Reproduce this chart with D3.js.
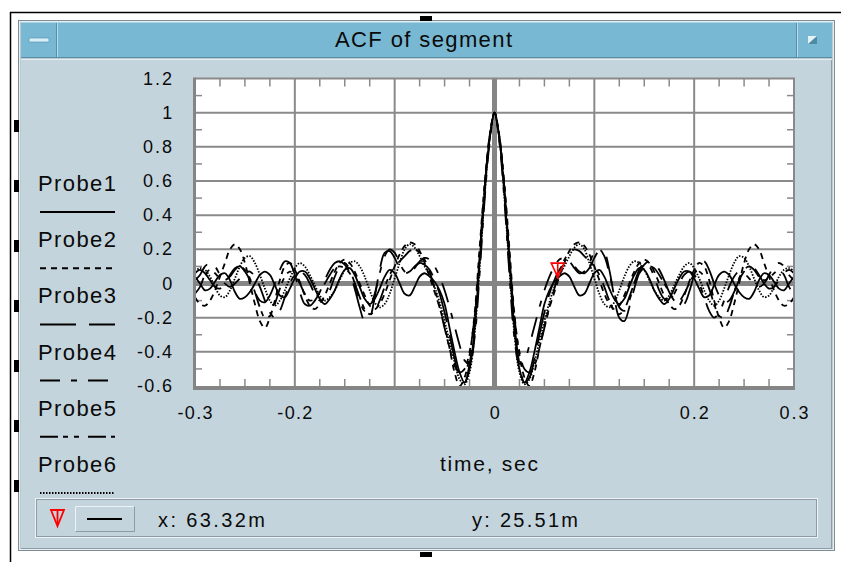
<!DOCTYPE html>
<html>
<head>
<meta charset="utf-8">
<script src="https://cdn.jsdelivr.net/npm/d3@7"></script>
<style>
  html, body { margin: 0; padding: 0; background: #ffffff; }
  svg { display: block; font-family: "Liberation Sans", Arial, Helvetica, sans-serif; }
</style>
</head>
<body>
<svg id="chart" width="841" height="562"></svg>
<script>
// ---------- data ----------
const title = "ACF of segment";
const xLabel = "time, sec";
const probeNames = ["Probe1", "Probe2", "Probe3", "Probe4", "Probe5", "Probe6"];
const dashPatterns = ["none", "6,5", "36,13", "20,11,6,11", "18,5,5,6,5,9", "1.5,1.5"];
const xTickLabels = ["-0.3", "-0.2", "0", "0.2", "0.3"];
const xTickValues = [-0.3, -0.2, 0, 0.2, 0.3];
const yTickValues = [1.2, 1, 0.8, 0.6, 0.4, 0.2, 0, -0.2, -0.4, -0.6];
const yTickLabels = ["1.2", "1", "0.8", "0.6", "0.4", "0.2", "0", "-0.2", "-0.4", "-0.6"];
const lagStep = 0.005; // seconds, lags 0 … 0.3 (ACF is symmetric in lag)
const probe1 = [1,0.84,0.52,0.12,-0.27,-0.5,-0.58,-0.52,-0.4,-0.26,-0.12,-0.04,0.01, 0.04,0.06,0.04,-0.02,-0.07,-0.06,0,0.06, 0.08,0.04,-0.03,-0.09,-0.12,-0.09,-0.02,0.05,0.09,0.08, 0.03,-0.04,-0.09,-0.12,-0.09,-0.03,0.03,0.07,0.07,0.03, -0.03,-0.08,-0.07,-0.01,0.05,0.07,0.05,0,-0.05,-0.08, -0.09,-0.05,0.02,0.06,0.05,0.01,-0.03,-0.04,0,0.04];
const probe2 = [1,0.86,0.58,0.2,-0.18,-0.42,-0.55,-0.6,-0.52,-0.38,-0.25,-0.14,-0.05, 0.04,0.12,0.19,0.23,0.24,0.22,0.17,0.1, 0.02,-0.06,-0.12,-0.15,-0.13,-0.07,0,0.07,0.12,0.14, 0.12,0.07,0,-0.07,-0.12,-0.15,-0.13,-0.07,0.01,0.08, 0.12,0.1,0.02,-0.1,-0.2,-0.26,-0.22,-0.12,0,0.12, 0.2,0.23,0.2,0.12,0.04,-0.04,-0.1,-0.13,-0.12,-0.08];
const probe3 = [1,0.85,0.55,0.15,-0.24,-0.47,-0.58,-0.55,-0.44,-0.3,-0.17,-0.06,0.02, 0.08,0.11,0.12,0.1,0.07,0.06,0.09,0.15, 0.19,0.18,0.08,-0.08,-0.2,-0.22,-0.14,-0.03,0.06,0.11, 0.13,0.12,0.08,0.02,-0.05,-0.1,-0.13,-0.12,-0.05,0.05, 0.12,0.13,0.08,0,-0.07,-0.11,-0.1,-0.05,0.02,0.07, 0.1,0.09,0.05,0,-0.03,-0.02,0.02,0.06,0.08,0.06];
const probe4 = [1,0.82,0.48,0.05,-0.32,-0.47,-0.45,-0.36,-0.25,-0.14,-0.04,0.04,0.1, 0.14,0.15,0.13,0.09,0.06,0.07,0.12,0.18, 0.2,0.16,0.06,-0.06,-0.14,-0.16,-0.1,0,0.08,0.12, 0.1,0.04,-0.04,-0.09,-0.1,-0.06,0,0.05,0.07,0.05, 0,-0.08,-0.16,-0.2,-0.17,-0.1,-0.02,0.04,0.07,0.06, 0.03,0,-0.02,0,0.05,0.1,0.12,0.1,0.05,0.02];
const probe5 = [1,0.85,0.55,0.16,-0.2,-0.4,-0.5,-0.52,-0.48,-0.38,-0.26,-0.14,-0.03, 0.07,0.14,0.18,0.2,0.19,0.16,0.13,0.1, 0.05,-0.02,-0.1,-0.16,-0.18,-0.15,-0.08,0,0.06,0.09, 0.1,0.09,0.05,0,-0.05,-0.09,-0.1,-0.06,0,0.05, 0.07,0.04,-0.03,-0.12,-0.19,-0.2,-0.14,-0.05,0.03,0.08, 0.1,0.08,0.04,0.02,0.03,0.06,0.08,0.05,-0.02,-0.06];
const probe6 = [1,0.84,0.5,0.08,-0.3,-0.52,-0.59,-0.56,-0.46,-0.34,-0.22,-0.11,-0.02, 0.05,0.1,0.16,0.21,0.23,0.2,0.12,0.03, -0.06,-0.12,-0.14,-0.11,-0.04,0.04,0.1,0.13,0.12,0.08, 0.02,-0.04,-0.08,-0.1,-0.07,-0.01,0.05,0.1,0.12,0.09, 0.03,-0.04,-0.1,-0.13,-0.1,-0.03,0.05,0.12,0.16,0.15, 0.1,0.03,-0.04,-0.08,-0.07,-0.02,0.04,0.08,0.09,0.07];
const markerX = 0.06332;
const markerY = 0.02551;
const markerXText = "x: 63.32m";
const markerYText = "y: 25.51m";

const probes = [probe1, probe2, probe3, probe4, probe5, probe6];

// ---------- layout ----------
const svg = d3.select("#chart");
const P = { left: 195, right: 794, top: 78.5, bottom: 386 };
const x = d3.scaleLinear().domain([-0.3, 0.3]).range([P.left, P.right]);
const y = d3.scaleLinear().domain([-0.6, 1.2]).range([P.bottom, P.top]);
const textColor = "#0a0a0a";

svg.append("rect").attr("width", 841).attr("height", 562).attr("fill", "#ffffff");

// outer black window edge
svg.append("line").attr("x1", 10).attr("y1", 12.5).attr("x2", 841).attr("y2", 12.5).attr("stroke", "#000").attr("stroke-width", 1.5);
svg.append("line").attr("x1", 10.5).attr("y1", 12).attr("x2", 10.5).attr("y2", 562).attr("stroke", "#000").attr("stroke-width", 1.5);

// window frame
svg.append("rect").attr("x", 18.5).attr("y", 20.5).attr("width", 816).attr("height", 530)
  .attr("fill", "#bccad1").attr("stroke", "#7e8d95");
svg.append("rect").attr("x", 19.5).attr("y", 21.5).attr("width", 814).attr("height", 528)
  .attr("fill", "none").attr("stroke", "#e6eef2");

// title bar
svg.append("rect").attr("x", 21).attr("y", 22).attr("width", 811).attr("height", 36).attr("fill", "#79b8d3");
svg.append("line").attr("x1", 21).attr("x2", 832).attr("y1", 22.5).attr("y2", 22.5).attr("stroke", "#a8d4e6");
svg.append("line").attr("x1", 21).attr("x2", 832).attr("y1", 57.5).attr("y2", 57.5).attr("stroke", "#5a8ea6");
// left button
svg.append("line").attr("x1", 56.5).attr("x2", 56.5).attr("y1", 23).attr("y2", 57).attr("stroke", "#5a8ea6");
svg.append("line").attr("x1", 57.5).attr("x2", 57.5).attr("y1", 23).attr("y2", 57).attr("stroke", "#b4dcec");
svg.append("rect").attr("x", 29).attr("y", 38).attr("width", 20).attr("height", 4).attr("rx", 1.5).attr("fill", "#d9eef7").attr("stroke", "#4d8aa6").attr("stroke-width", 0.6);
// right button
svg.append("line").attr("x1", 796.5).attr("x2", 796.5).attr("y1", 23).attr("y2", 57).attr("stroke", "#5a8ea6");
svg.append("line").attr("x1", 797.5).attr("x2", 797.5).attr("y1", 23).attr("y2", 57).attr("stroke", "#b4dcec");
svg.append("rect").attr("x", 808).attr("y", 36).attr("width", 9).attr("height", 8).attr("fill", "#4d8aa6");
svg.append("path").attr("d", "M808,36 H817 L808,44 Z").attr("fill", "#e3f2f8");

// title text
svg.append("text").attr("x", 335).attr("y", 47).attr("font-size", 22).attr("fill", textColor)
  .attr("textLength", 177).attr("lengthAdjust", "spacing").text(title);

// panel
svg.append("rect").attr("x", 21).attr("y", 60).attr("width", 811).attr("height", 488).attr("fill", "#c4d4dd");
svg.append("line").attr("x1", 21).attr("x2", 832).attr("y1", 59.5).attr("y2", 59.5).attr("stroke", "#e2ecf1");
svg.append("line").attr("x1", 21).attr("x2", 832).attr("y1", 548.5).attr("y2", 548.5).attr("stroke", "#8d9ca4");
svg.append("line").attr("x1", 831.5).attr("x2", 831.5).attr("y1", 60).attr("y2", 548).attr("stroke", "#8d9ca4");

// resize handles
[126, 186, 246, 306, 366, 426, 486].forEach(cy => {
  svg.append("rect").attr("x", 14).attr("y", cy - 6).attr("width", 5).attr("height", 12).attr("fill", "#000");
});
svg.append("rect").attr("x", 420).attr("y", 16).attr("width", 12).attr("height", 5).attr("fill", "#000");
svg.append("rect").attr("x", 420).attr("y", 552).attr("width", 12).attr("height", 5).attr("fill", "#000");

// ---------- plot area ----------
svg.append("rect").attr("x", P.left).attr("y", P.top).attr("width", P.right - P.left).attr("height", P.bottom - P.top).attr("fill", "#fff");

const gridColor = "#8a8a8a";
const gGrid = svg.append("g");
[-0.2, -0.1, 0.1, 0.2].forEach(v => {
  gGrid.append("line").attr("x1", x(v)).attr("x2", x(v)).attr("y1", P.top).attr("y2", P.bottom).attr("stroke", gridColor).attr("stroke-width", 2);
});
[1, 0.8, 0.6, 0.4, 0.2, -0.2, -0.4].forEach(v => {
  gGrid.append("line").attr("x1", P.left).attr("x2", P.right).attr("y1", y(v)).attr("y2", y(v)).attr("stroke", gridColor).attr("stroke-width", 2);
});
// minor ticks
d3.range(-0.3, 0.3001, 0.025).forEach(v => {
  const r = Math.round(v * 40);
  if (r % 4 === 0) return;
  gGrid.append("line").attr("x1", x(v)).attr("x2", x(v)).attr("y1", P.top).attr("y2", P.top + 8).attr("stroke", gridColor).attr("stroke-width", 1.5);
  gGrid.append("line").attr("x1", x(v)).attr("x2", x(v)).attr("y1", P.bottom).attr("y2", P.bottom - 7).attr("stroke", gridColor).attr("stroke-width", 1.5);
});
[1.1, 0.9, 0.7, 0.5, 0.3, 0.1, -0.1, -0.3, -0.5].forEach(v => {
  gGrid.append("line").attr("x1", P.left).attr("x2", P.left + 7).attr("y1", y(v)).attr("y2", y(v)).attr("stroke", gridColor).attr("stroke-width", 1.5);
  gGrid.append("line").attr("x1", P.right).attr("x2", P.right - 7).attr("y1", y(v)).attr("y2", y(v)).attr("stroke", gridColor).attr("stroke-width", 1.5);
});
// zero axes
gGrid.append("line").attr("x1", x(0)).attr("x2", x(0)).attr("y1", P.top).attr("y2", P.bottom).attr("stroke", "#858585").attr("stroke-width", 5);
gGrid.append("line").attr("x1", P.left).attr("x2", P.right).attr("y1", y(0)).attr("y2", y(0)).attr("stroke", "#858585").attr("stroke-width", 5);

// curves
svg.append("clipPath").attr("id", "clip").append("rect")
  .attr("x", P.left).attr("y", P.top).attr("width", P.right - P.left).attr("height", P.bottom - P.top);
const line = d3.line().x(d => x(d[0])).y(d => y(d[1])).curve(d3.curveCatmullRom.alpha(0.5));
const gCurves = svg.append("g").attr("clip-path", "url(#clip)");
probes.forEach((half, i) => {
  const right = half.map((v, k) => [k * lagStep, v]);
  const left = half.slice(1).map((v, k) => [-(k + 1) * lagStep, v]).reverse();
  const pts = left.concat(right);
  gCurves.append("path").datum(pts).attr("d", line)
    .attr("fill", "none").attr("stroke", "#000").attr("stroke-width", 1.8)
    .attr("stroke-dasharray", dashPatterns[i]);
});

// frame
svg.append("line").attr("x1", P.left).attr("x2", P.right + 1).attr("y1", P.top).attr("y2", P.top).attr("stroke", gridColor).attr("stroke-width", 2);
svg.append("line").attr("x1", P.right).attr("x2", P.right).attr("y1", P.top).attr("y2", P.bottom).attr("stroke", gridColor).attr("stroke-width", 2);
svg.append("line").attr("x1", P.left - 0.5).attr("x2", P.left - 0.5).attr("y1", P.top - 1).attr("y2", P.bottom + 4).attr("stroke", "#858585").attr("stroke-width", 3);
svg.append("line").attr("x1", P.left - 2).attr("x2", P.right + 1).attr("y1", P.bottom + 2).attr("y2", P.bottom + 2).attr("stroke", "#858585").attr("stroke-width", 4);

// marker
const mx = x(markerX), my = y(markerY);
const gM = svg.append("g").attr("stroke", "#ff0000").attr("fill", "none");
gM.append("path").attr("d", `M${mx - 6.5},${my - 16} H${mx + 6.5} L${mx},${my - 2} Z`).attr("stroke-width", 1.6);
gM.append("line").attr("x1", mx).attr("x2", mx).attr("y1", my - 16).attr("y2", my).attr("stroke-width", 1.6);

// tick labels
function tickLen(s) {
  let L = 0;
  for (const c of s) L += (c === "-") ? 6 : (c === ".") ? 9.6 : 9.7;
  return L;
}
yTickValues.forEach((v, i) => {
  const s = yTickLabels[i];
  svg.append("text").attr("x", 172 - tickLen(s)).attr("y", y(v) + 6).attr("font-size", 18).attr("fill", textColor)
    .attr("textLength", tickLen(s)).attr("lengthAdjust", "spacing").text(s);
});
xTickValues.forEach((v, i) => {
  const s = xTickLabels[i];
  svg.append("text").attr("x", x(v) - tickLen(s) / 2).attr("y", 419).attr("font-size", 18).attr("fill", textColor)
    .attr("textLength", tickLen(s)).attr("lengthAdjust", "spacing").text(s);
});

// axis title
svg.append("text").attr("x", 440).attr("y", 471).attr("font-size", 21).attr("fill", textColor)
  .attr("textLength", 98).attr("lengthAdjust", "spacing").text(xLabel);

// legend
probeNames.forEach((name, i) => {
  const base = 191 + i * 56.2;
  svg.append("text").attr("x", 38).attr("y", base).attr("font-size", 22).attr("fill", textColor)
    .attr("textLength", 78).attr("lengthAdjust", "spacing").text(name);
  svg.append("line").attr("x1", 40).attr("x2", 115).attr("y1", base + 21).attr("y2", base + 21)
    .attr("stroke", "#000").attr("stroke-width", 2).attr("stroke-dasharray", dashPatterns[i]);
});

// status bar
svg.append("rect").attr("x", 35.5).attr("y", 498.5).attr("width", 782).attr("height", 39).attr("fill", "none").attr("stroke", "#eef3f5");
svg.append("rect").attr("x", 36.5).attr("y", 499.5).attr("width", 780).attr("height", 37).attr("fill", "none").attr("stroke", "#8d9ca4");
// marker icon
const gI = svg.append("g").attr("stroke", "#ff0000").attr("fill", "none").attr("stroke-width", 1.8);
gI.append("path").attr("d", "M51,510 H64 L57.5,526 Z");
gI.append("line").attr("x1", 57.5).attr("x2", 57.5).attr("y1", 510).attr("y2", 524);
// button
svg.append("rect").attr("x", 75).attr("y", 506).attr("width", 60).attr("height", 26).attr("fill", "#c4d4dd");
svg.append("path").attr("d", "M75.5,531.5 V506.5 H134.5").attr("fill", "none").attr("stroke", "#eef3f5");
svg.append("path").attr("d", "M75.5,531.5 H134.5 V506.5").attr("fill", "none").attr("stroke", "#8d9ca4");
svg.append("line").attr("x1", 87).attr("x2", 122).attr("y1", 519).attr("y2", 519).attr("stroke", "#000").attr("stroke-width", 2);
svg.append("text").attr("x", 158).attr("y", 527).attr("font-size", 20).attr("fill", textColor)
  .attr("textLength", 107).attr("lengthAdjust", "spacing").text(markerXText);
svg.append("text").attr("x", 472).attr("y", 527).attr("font-size", 20).attr("fill", textColor)
  .attr("textLength", 106).attr("lengthAdjust", "spacing").text(markerYText);
</script>
</body>
</html>
